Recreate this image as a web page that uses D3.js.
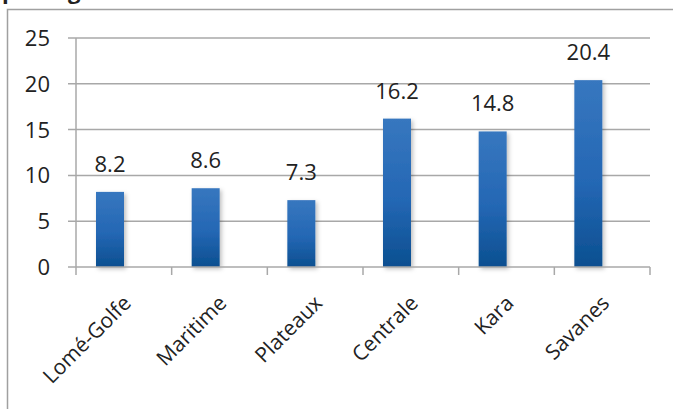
<!DOCTYPE html>
<html>
<head>
<meta charset="utf-8">
<script src="https://cdn.jsdelivr.net/npm/d3@7"></script>
<style>
  body { margin: 0; background: #fff; }
  svg { display: block; }
  text { font-family: "Open Sans", "Noto Sans", sans-serif; fill: #222; }
</style>
</head>
<body>
<svg id="chart"></svg>
<script>
const width = 673;
const height = 409;

const regions = ["Lomé-Golfe", "Maritime", "Plateaux", "Centrale", "Kara", "Savanes"];
const values = [8.2, 8.6, 7.3, 16.2, 14.8, 20.4];
const yTicks = [0, 5, 10, 15, 20, 25];

let svg = d3.select("#chart")
  .attr("width", width)
  .attr("height", height);

const plotLeft = 76, plotRight = 650, plotTop = 38, plotBottom = 267;

let x = d3.scaleBand()
  .domain(regions)
  .range([plotLeft, plotRight]);

let y = d3.scaleLinear()
  .domain([0, 25])
  .range([plotBottom, plotTop]);

let defs = svg.append("defs");
let grad = defs.append("linearGradient")
  .attr("id", "barGrad")
  .attr("x1", 0).attr("y1", 0)
  .attr("x2", 0).attr("y2", 1);
grad.append("stop").attr("offset", "0%").attr("stop-color", "#3777bf");
grad.append("stop").attr("offset", "55%").attr("stop-color", "#2467b4");
grad.append("stop").attr("offset", "100%").attr("stop-color", "#0b4f90");

let shadow = defs.append("filter")
  .attr("id", "shadow")
  .attr("x", "-30%").attr("y", "-10%")
  .attr("width", "160%").attr("height", "130%");
shadow.append("feDropShadow")
  .attr("dx", 2).attr("dy", 2)
  .attr("stdDeviation", 2)
  .attr("flood-color", "#000")
  .attr("flood-opacity", 0.25);

// outer border (cut off on the right and bottom)
svg.append("rect")
  .attr("x", 7.5).attr("y", 9.5)
  .attr("width", 700).attr("height", 500)
  .style("fill", "none")
  .style("stroke", "#a0a0a0")
  .style("stroke-width", 1.5);

// title, only its descenders show above the border
svg.append("text")
  .attr("x", 2).attr("y", -1)
  .style("font-weight", "bold")
  .style("font-size", "22px")
  .text("par région");

// gridlines with left tick marks
svg.append("g")
  .selectAll("line")
  .data(yTicks.filter(d => d > 0))
  .join("line")
  .attr("x1", plotLeft - 8)
  .attr("x2", plotRight)
  .attr("y1", d => y(d))
  .attr("y2", d => y(d))
  .style("stroke", "#a8a8a8")
  .style("stroke-width", 1.5);

// y axis labels
svg.append("g")
  .selectAll("text")
  .data(yTicks)
  .join("text")
  .attr("x", 50)
  .attr("y", d => y(d))
  .attr("dy", "0.36em")
  .attr("text-anchor", "end")
  .style("font-size", "22px")
  .text(d => d);

// bars
const barOffset = 20, barW = 28;
svg.append("g")
  .selectAll("rect")
  .data(values)
  .join("rect")
  .attr("x", (d, i) => x(regions[i]) + barOffset)
  .attr("y", d => y(d))
  .attr("width", barW)
  .attr("height", d => y(0) - y(d))
  .style("fill", "url(#barGrad)")
  .attr("filter", "url(#shadow)");

// value labels
svg.append("g")
  .selectAll("text")
  .data(values)
  .join("text")
  .attr("x", (d, i) => x(regions[i]) + barOffset + barW / 2)
  .attr("y", d => y(d) - 20)
  .attr("text-anchor", "middle")
  .style("font-size", "22px")
  .text(d => d.toFixed(1));

// axes lines
let axisColor = "#a8a8a8";
svg.append("line")
  .attr("x1", plotLeft).attr("x2", plotLeft)
  .attr("y1", plotTop).attr("y2", plotBottom + 8)
  .style("stroke", axisColor).style("stroke-width", 1.5);
svg.append("line")
  .attr("x1", plotLeft - 8).attr("x2", plotRight)
  .attr("y1", plotBottom).attr("y2", plotBottom)
  .style("stroke", axisColor).style("stroke-width", 1.5);
svg.append("g")
  .selectAll("line")
  .data(regions)
  .join("line")
  .attr("x1", d => x(d) + x.bandwidth())
  .attr("x2", d => x(d) + x.bandwidth())
  .attr("y1", plotBottom)
  .attr("y2", plotBottom + 8)
  .style("stroke", axisColor).style("stroke-width", 1.5);

// category labels rotated
svg.append("g")
  .selectAll("text")
  .data(regions)
  .join("text")
  .attr("transform", d => `translate(${x(d) + x.bandwidth() / 2 - 2}, ${plotBottom + 27}) rotate(-45)`)
  .attr("text-anchor", "end")
  .attr("dy", "0.7em")
  .style("font-size", "21px")
  .text(d => d);
</script>
</body>
</html>
